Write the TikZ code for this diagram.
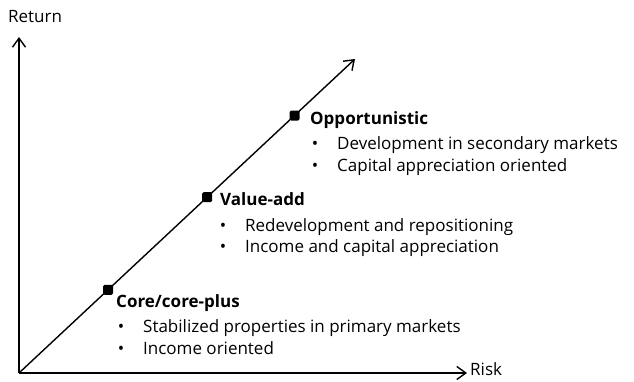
\documentclass[tikz,border=0pt]{standalone}
\usepackage{fontspec}
\setmainfont{Open Sans}
\usepackage{tikz}
\usetikzlibrary{positioning,arrows.meta}

\begin{document}
\begin{tikzpicture}[
    x=1pt, y=1pt,
    axis/.style={line width=1.4pt, -{Straight Barb[length=9pt, width=13pt, line width=1.4pt]}},
    stage/.style={fill=black, rounded corners=1.5pt, minimum size=10pt, inner sep=0pt},
    txt/.style={anchor=base west, inner sep=0pt, font=\fontsize{17}{20}\selectfont},
    title/.style={txt, font=\fontsize{17}{20}\selectfont\bfseries},
    bitem/.style={txt},
  ]
  \useasboundingbox (0,0) rectangle (634,382);
  \newcommand{\bul}{\llap{\textbullet\hspace{19pt}}}

  % Axes
  \coordinate (o) at (19,9);
  \coordinate (ytip) at (19,345);
  \coordinate (xtip) at (467,9);
  \coordinate (dtip) at (355,323);
  \draw[axis] (o) -- (ytip);
  \draw[axis] (o) -- (xtip);
  \node[txt] (ret) at (8,359) {Return};
  \node[txt] (risk) at (470,6) {Risk};

  % Diagonal with the three stages
  \draw[axis] (o) -- (dtip)
    node[stage, pos=0.265] (core) {}
    node[stage, pos=0.56] (value) {}
    node[stage, pos=0.82] (opp) {};

  % Labels
  \node[title] (coret) at (116,74) {Core/core-plus};
  \node[bitem] (core1) at (143,49) {\bul Stabilized properties in primary markets};
  \node[bitem] (core2) at (143,27) {\bul Income oriented};

  \node[title] (valuet) at (220,176) {Value-add};
  \node[bitem] (value1) at (245,150) {\bul Redevelopment and repositioning};
  \node[bitem] (value2) at (245,129) {\bul Income and capital appreciation};

  \node[title] (oppt) at (310,257) {Opportunistic};
  \node[bitem] (opp1) at (337,232) {\bul Development in secondary markets};
  \node[bitem] (opp2) at (337,210) {\bul Capital appreciation oriented};
\end{tikzpicture}
\end{document}
